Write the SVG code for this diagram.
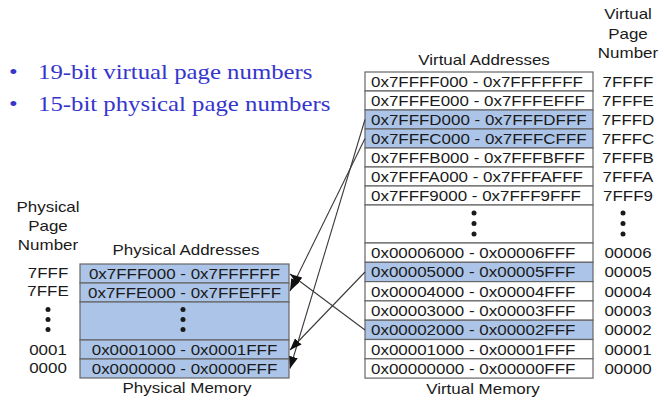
<svg xmlns="http://www.w3.org/2000/svg" width="664" height="402" viewBox="0 0 664 402">
<style>
.bg{fill:#ffffff}
.row{fill:#ffffff;stroke:#666666;stroke-width:1.2}
.hl{fill:#abc4e7;stroke:#666666;stroke-width:1.2}
.t{font-family:"Liberation Sans",Arial,sans-serif;font-size:15px;fill:#1a1a1a}
.m{text-anchor:middle}
.b{font-family:"Liberation Serif","Times New Roman",serif;font-size:21px;fill:#3535cc}
.dot{fill:#1a1a1a}
.conn{stroke:#3a3a3a;stroke-width:1.1;fill:none;marker-end:url(#ah)}
</style>
<defs>
<marker id="ah" viewBox="0 0 12 9" refX="12" refY="4.5" markerWidth="12" markerHeight="9" markerUnits="userSpaceOnUse" orient="auto">
<path d="M0,0 L12,4.5 L0,9 z" fill="#111111"/>
</marker>
</defs>
<rect class="bg" x="0" y="0" width="664" height="402"/>

<g id="bullets">
<text class="b" transform="translate(9,79) scale(1.18,1)">•</text>
<text class="b" transform="translate(38,79) scale(1.18,1)">19-bit virtual page numbers</text>
<text class="b" transform="translate(9,111) scale(1.18,1)">•</text>
<text class="b" transform="translate(38,111) scale(1.18,1)">15-bit physical page numbers</text>
</g>

<g id="virtual-headers">
<text class="t m" transform="translate(484,65) scale(1.13,1)">Virtual Addresses</text>
<text class="t m" transform="translate(628,19) scale(1.13,1)">Virtual</text>
<text class="t m" transform="translate(628,38.5) scale(1.13,1)">Page</text>
<text class="t m" transform="translate(628,58) scale(1.13,1)">Number</text>
<text class="t m" transform="translate(483,394) scale(1.13,1)">Virtual Memory</text>
</g>

<g id="v7FFFF"><rect class="row" x="365" y="72" width="228" height="19"/>
<text class="t" transform="translate(371,87) scale(1.13,1)">0x7FFFF000 - 0x7FFFFFFF</text>
<text class="t m" transform="translate(628,87) scale(1.13,1)">7FFFF</text></g>
<g id="v7FFFE"><rect class="row" x="365" y="91" width="228" height="19"/>
<text class="t" transform="translate(371,106) scale(1.13,1)">0x7FFFE000 - 0x7FFFEFFF</text>
<text class="t m" transform="translate(628,106) scale(1.13,1)">7FFFE</text></g>
<g id="v7FFFD"><rect class="hl" x="365" y="110" width="228" height="19"/>
<text class="t" transform="translate(371,125) scale(1.13,1)">0x7FFFD000 - 0x7FFFDFFF</text>
<text class="t m" transform="translate(628,125) scale(1.13,1)">7FFFD</text></g>
<g id="v7FFFC"><rect class="hl" x="365" y="129" width="228" height="19"/>
<text class="t" transform="translate(371,144) scale(1.13,1)">0x7FFFC000 - 0x7FFFCFFF</text>
<text class="t m" transform="translate(628,144) scale(1.13,1)">7FFFC</text></g>
<g id="v7FFFB"><rect class="row" x="365" y="148" width="228" height="19"/>
<text class="t" transform="translate(371,163) scale(1.13,1)">0x7FFFB000 - 0x7FFFBFFF</text>
<text class="t m" transform="translate(628,163) scale(1.13,1)">7FFFB</text></g>
<g id="v7FFFA"><rect class="row" x="365" y="167" width="228" height="19"/>
<text class="t" transform="translate(371,182) scale(1.13,1)">0x7FFFA000 - 0x7FFFAFFF</text>
<text class="t m" transform="translate(628,182) scale(1.13,1)">7FFFA</text></g>
<g id="v7FFF9"><rect class="row" x="365" y="186" width="228" height="19"/>
<text class="t" transform="translate(371,201) scale(1.13,1)">0x7FFF9000 - 0x7FFF9FFF</text>
<text class="t m" transform="translate(628,201) scale(1.13,1)">7FFF9</text></g>
<g id="vdots"><rect class="row" x="365" y="205" width="228" height="38"/>
<circle class="dot" cx="474" cy="213" r="2.5"/><circle class="dot" cx="474" cy="223.5" r="2.5"/><circle class="dot" cx="474" cy="234" r="2.5"/>
<circle class="dot" cx="623" cy="213" r="2.5"/><circle class="dot" cx="623" cy="223.5" r="2.5"/><circle class="dot" cx="623" cy="234" r="2.5"/></g>
<g id="v00006"><rect class="row" x="365" y="243" width="228" height="19.3"/>
<text class="t" transform="translate(371,258) scale(1.13,1)">0x00006000 - 0x00006FFF</text>
<text class="t m" transform="translate(628,258) scale(1.13,1)">00006</text></g>
<g id="v00005"><rect class="hl" x="365" y="262.3" width="228" height="19.3"/>
<text class="t" transform="translate(371,277.3) scale(1.13,1)">0x00005000 - 0x00005FFF</text>
<text class="t m" transform="translate(628,277.3) scale(1.13,1)">00005</text></g>
<g id="v00004"><rect class="row" x="365" y="281.6" width="228" height="19.3"/>
<text class="t" transform="translate(371,296.6) scale(1.13,1)">0x00004000 - 0x00004FFF</text>
<text class="t m" transform="translate(628,296.6) scale(1.13,1)">00004</text></g>
<g id="v00003"><rect class="row" x="365" y="300.9" width="228" height="19.3"/>
<text class="t" transform="translate(371,315.9) scale(1.13,1)">0x00003000 - 0x00003FFF</text>
<text class="t m" transform="translate(628,315.9) scale(1.13,1)">00003</text></g>
<g id="v00002"><rect class="hl" x="365" y="320.2" width="228" height="19.3"/>
<text class="t" transform="translate(371,335.2) scale(1.13,1)">0x00002000 - 0x00002FFF</text>
<text class="t m" transform="translate(628,335.2) scale(1.13,1)">00002</text></g>
<g id="v00001"><rect class="row" x="365" y="339.5" width="228" height="19.3"/>
<text class="t" transform="translate(371,354.5) scale(1.13,1)">0x00001000 - 0x00001FFF</text>
<text class="t m" transform="translate(628,354.5) scale(1.13,1)">00001</text></g>
<g id="v00000"><rect class="row" x="365" y="358.8" width="228" height="19.3"/>
<text class="t" transform="translate(371,373.8) scale(1.13,1)">0x00000000 - 0x00000FFF</text>
<text class="t m" transform="translate(628,373.8) scale(1.13,1)">00000</text></g>

<g id="physical-headers">
<text class="t m" transform="translate(48,212) scale(1.13,1)">Physical</text>
<text class="t m" transform="translate(48,231) scale(1.13,1)">Page</text>
<text class="t m" transform="translate(48,250) scale(1.13,1)">Number</text>
<text class="t m" transform="translate(186,255) scale(1.13,1)">Physical Addresses</text>
<text class="t m" transform="translate(187,393) scale(1.13,1)">Physical Memory</text>
</g>

<g id="p7FFF"><rect class="hl" x="80" y="264" width="209" height="19"/>
<text class="t m" transform="translate(184.5,279) scale(1.13,1)">0x7FFF000 - 0x7FFFFFF</text>
<text class="t m" transform="translate(48,278) scale(1.13,1)">7FFF</text></g>
<g id="p7FFE"><rect class="hl" x="80" y="283" width="209" height="19"/>
<text class="t m" transform="translate(184.5,298) scale(1.13,1)">0x7FFE000 - 0x7FFEFFF</text>
<text class="t m" transform="translate(48,296) scale(1.13,1)">7FFE</text></g>
<g id="pdots"><rect class="hl" x="80" y="302" width="209" height="38"/>
<circle class="dot" cx="183" cy="309.5" r="2.5"/><circle class="dot" cx="183" cy="319.5" r="2.5"/><circle class="dot" cx="183" cy="329.5" r="2.5"/>
<circle class="dot" cx="48" cy="309.5" r="2.5"/><circle class="dot" cx="48" cy="319.5" r="2.5"/><circle class="dot" cx="48" cy="329.5" r="2.5"/></g>
<g id="p0001"><rect class="hl" x="80" y="340" width="209" height="19"/>
<text class="t m" transform="translate(184.5,355) scale(1.13,1)">0x0001000 - 0x0001FFF</text>
<text class="t m" transform="translate(48,355) scale(1.13,1)">0001</text></g>
<g id="p0000"><rect class="hl" x="80" y="359" width="209" height="19"/>
<text class="t m" transform="translate(184.5,374) scale(1.13,1)">0x0000000 - 0x0000FFF</text>
<text class="t m" transform="translate(48,373) scale(1.13,1)">0000</text></g>

<g id="connectors">
<line class="conn" x1="365" y1="119.5" x2="290" y2="368.5"/>
<line class="conn" x1="365" y1="138.5" x2="290" y2="291"/>
<line class="conn" x1="365" y1="272" x2="290" y2="350"/>
<line class="conn" x1="365" y1="330" x2="290" y2="274"/>
</g>
</svg>
